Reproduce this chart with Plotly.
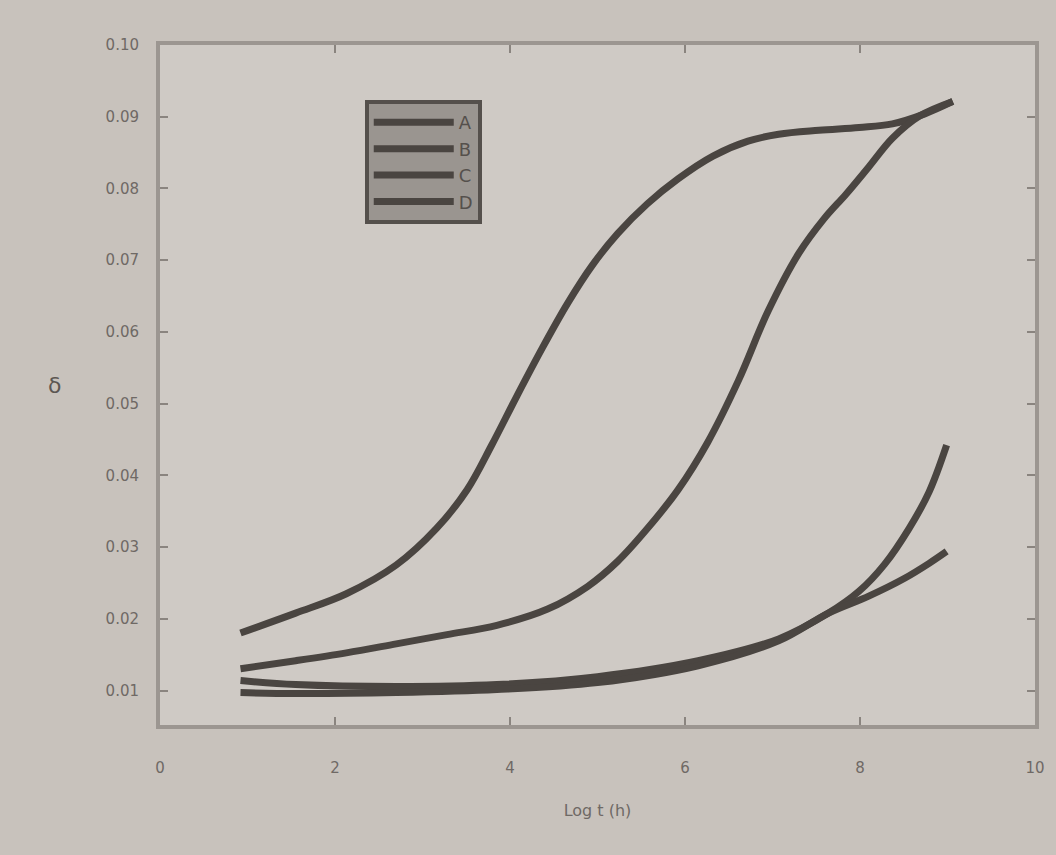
import plotly.graph_objects as go

# Log t on the x axis, four response curves
x_a = [0.92, 1.55, 2.13, 2.70, 3.16, 3.51, 3.79, 4.08, 4.37, 4.66, 4.94, 5.23,
       5.57, 5.92, 6.32, 6.72, 7.07, 7.53, 7.99, 8.37, 8.74, 9.06]
y_a = [0.01803, 0.02080, 0.02350, 0.02750, 0.03260, 0.03800, 0.04420, 0.05110,
       0.05778, 0.06402, 0.06928, 0.07371, 0.07787, 0.08133, 0.08451, 0.08659,
       0.08756, 0.08811, 0.08850, 0.08900, 0.09040, 0.09213]

x_b = [0.92, 1.55, 2.13, 2.70, 3.28, 3.85, 4.43, 4.89, 5.23, 5.57, 5.92, 6.26,
       6.61, 6.95, 7.30, 7.59, 7.84, 8.10, 8.37, 8.68, 9.06]
y_b = [0.01305, 0.01416, 0.01526, 0.01651, 0.01780, 0.01910, 0.02136, 0.02454,
       0.02801, 0.03258, 0.03798, 0.04463, 0.05321, 0.06291, 0.07094, 0.07579,
       0.07920, 0.08300, 0.08700, 0.09010, 0.09213]

x_c = [0.92, 1.55, 2.70, 3.85, 5.00, 6.15, 7.07, 7.64, 7.99, 8.28, 8.56, 8.79, 8.99]
y_c = [0.01139, 0.01083, 0.01055, 0.01083, 0.01194, 0.01416, 0.01720, 0.02080,
       0.02385, 0.02759, 0.03258, 0.03770, 0.04421]

x_d = [0.92, 1.55, 2.70, 3.85, 5.00, 6.15, 7.07, 7.64, 8.10, 8.51, 8.79, 8.99]
y_d = [0.00972, 0.00958, 0.00972, 0.01014, 0.01111, 0.01346, 0.01693, 0.02080,
       0.02316, 0.02565, 0.02773, 0.02939]

series_names = ["A", "B", "C", "D"]
x_ticks = [0, 2, 4, 6, 8, 10]
y_ticks = [0.01, 0.02, 0.03, 0.04, 0.05, 0.06, 0.07, 0.08, 0.09, 0.10]

line_col = "#4a4541"
fig = go.Figure()
for name, xs, ys in zip(series_names, [x_a, x_b, x_c, x_d], [y_a, y_b, y_c, y_d]):
    fig.add_trace(go.Scatter(x=xs, y=ys, mode="lines", name=name,
                             line=dict(color=line_col, width=7, shape="spline", smoothing=1.0)))

fig.update_layout(
    width=1056, height=855,
    margin=dict(l=160, r=21, t=45, b=130),
    paper_bgcolor="#c8c2bc",
    plot_bgcolor="#cfcac5",
    font=dict(family="DejaVu Sans", color="#6f6965", size=15),
    legend=dict(x=0.234, y=0.919, xanchor="left", yanchor="top",
                bgcolor="#9a9590", bordercolor="#55504c", borderwidth=4,
                font=dict(size=18, color="#55504c"),
                itemwidth=80, tracegroupgap=0),
    showlegend=True,
)
fig.update_xaxes(range=[0, 10], tickvals=x_ticks, showgrid=False, zeroline=False,
                 showline=True, linecolor="#9c9691", linewidth=4, mirror="ticks",
                 ticks="inside", ticklen=8, tickcolor="#8a847f", tickwidth=2,
                 ticklabelstandoff=26,
                 title=dict(text="Log t (h)", font=dict(size=16, color="#6f6965"), standoff=30))
fig.update_yaxes(range=[0.0052, 0.1], tickvals=y_ticks, tickformat=".2f",
                 showgrid=False, zeroline=False,
                 showline=True, linecolor="#9c9691", linewidth=4, mirror="ticks",
                 ticks="inside", ticklen=8, tickcolor="#8a847f", tickwidth=2,
                 ticklabelstandoff=14)
fig.add_annotation(text="δ", xref="paper", yref="paper", x=-0.13, y=0.5,
                   showarrow=False, font=dict(size=22, color="#5c5652"))

fig.write_html("out.html")
